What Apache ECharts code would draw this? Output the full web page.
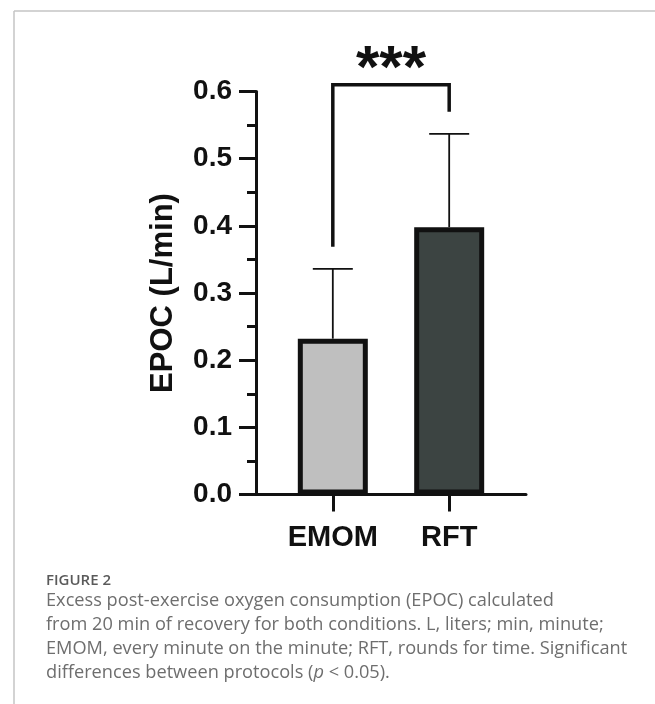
<!DOCTYPE html>
<html>
<head>
<meta charset="utf-8">
<script src="https://cdn.jsdelivr.net/npm/echarts@6/dist/echarts.min.js"></script>
<style>
  html, body { margin: 0; padding: 0; background: #fff; }
  #chart { width: 655px; height: 704px; }
</style>
</head>
<body>
<div id="chart"></div>
<script>
// ---- data ----
const categories = ['EMOM', 'RFT'];
const means = [0.232, 0.398];
const sds = [0.104, 0.139];
const yTicks = [0.0, 0.1, 0.2, 0.3, 0.4, 0.5, 0.6];
const sigLabel = '***';
const sigGap = 0.033;      // gap between error-bar tip and bracket leg
const sigTopExtra = 0.073; // bracket height above the higher error bar
const captionTitle = 'FIGURE 2';
const captionLines = [
  'Excess post-exercise oxygen consumption (EPOC) calculated',
  'from 20 min of recovery for both conditions. L, liters; min, minute;',
  'EMOM, every minute on the minute; RFT, rounds for time. Significant',
  'differences between protocols ({i|p} < 0.05).'
];

// ---- styles ----
const barColors = ['#bfbfbf', '#3c4442'];
const ink = '#111111';
const chartFont = 'Liberation Sans';
const capFont = 'Open Sans';
const capColor = '#6e6e6e';
const capSize = 18.2;

const chart = echarts.init(document.getElementById('chart'), null, { renderer: 'canvas' });

const barData = categories.map((c, i) => ({ value: [i, means[i]], itemStyle: { color: barColors[i] } }));
const errData = categories.map((c, i) => [i, means[i], means[i] + sds[i]]);
const tips = categories.map((c, i) => means[i] + sds[i]);
const sigData = [[0, 1, tips[0] + sigGap, tips[1] + sigGap, Math.max(tips[0], tips[1]) + sigTopExtra]];

const option = {
  animation: false,
  backgroundColor: '#fff',
  grid: { left: 256, right: 129, top: 91.5, bottom: 209.5 },
  xAxis: {
    type: 'value',
    min: -0.66, max: 1.66,
    splitLine: { show: false },
    axisLine: { show: true, onZero: true, lineStyle: { color: ink, width: 3 } },
    axisTick: { show: true, customValues: [0, 1], length: 17, lineStyle: { color: ink, width: 3 } },
    axisLabel: {
      customValues: [0, 1],
      formatter: v => categories[Math.round(v)],
      color: ink, fontFamily: chartFont, fontWeight: 'bold', fontSize: 29, margin: 29
    }
  },
  yAxis: {
    type: 'value',
    min: yTicks[0], max: yTicks[yTicks.length - 1], interval: 0.1,
    name: 'EPOC (L/min)',
    nameLocation: 'middle',
    nameGap: 77,
    nameTextStyle: { color: ink, fontFamily: chartFont, fontWeight: 'bold', fontSize: 31 },
    splitLine: { show: false },
    axisLine: { show: true, onZero: false, lineStyle: { color: ink, width: 3 } },
    axisTick: { show: true, length: 17, lineStyle: { color: ink, width: 3 } },
    minorTick: { show: true, splitNumber: 2, length: 9, lineStyle: { color: ink, width: 3 } },
    minorSplitLine: { show: false },
    axisLabel: {
      formatter: v => v.toFixed(1),
      color: ink, fontFamily: chartFont, fontWeight: 'bold', fontSize: 28, margin: 24
    }
  },
  series: [
    {
      type: 'bar',
      data: barData,
      barWidth: 70,
      itemStyle: { borderColor: ink, borderWidth: 5 },
      z: 2
    },
    {
      type: 'custom',
      data: errData,
      z: 3,
      renderItem: (params, api) => {
        const x = api.value(0);
        const p0 = api.coord([x, api.value(1)]);
        const p1 = api.coord([x, api.value(2)]);
        return {
          type: 'group',
          children: [
            { type: 'line', shape: { x1: p0[0], y1: p0[1], x2: p1[0], y2: p1[1] }, style: { stroke: ink, lineWidth: 1.8 } },
            { type: 'line', shape: { x1: p1[0] - 20, y1: p1[1], x2: p1[0] + 20, y2: p1[1] }, style: { stroke: ink, lineWidth: 1.8 } }
          ]
        };
      }
    },
    {
      type: 'custom',
      data: sigData,
      clip: false,
      z: 3,
      renderItem: (params, api) => {
        const a = api.value(0), b = api.value(1);
        const pL = api.coord([a, api.value(2)]);
        const pLT = api.coord([a, api.value(4)]);
        const pRT = api.coord([b, api.value(4)]);
        const pR = api.coord([b, api.value(3)]);
        return {
          type: 'group',
          children: [
            { type: 'polyline', shape: { points: [pL, pLT, pRT, pR] }, style: { stroke: ink, lineWidth: 3.5, fill: null } },
            { type: 'text', x: (pLT[0] + pRT[0]) / 2, y: pLT[1] - 14,
              style: { text: sigLabel, fill: ink, font: 'bold 60px "Liberation Sans"', align: 'center', verticalAlign: 'middle' } }
          ]
        };
      }
    }
  ],
  graphic: [
    { type: 'line', shape: { x1: 14, y1: 704, x2: 14, y2: 11 }, style: { stroke: '#c4c4c4', lineWidth: 1.5 } },
    { type: 'line', shape: { x1: 14, y1: 11, x2: 655, y2: 11 }, style: { stroke: '#c4c4c4', lineWidth: 1.5 } },
    { type: 'text', x: 46, y: 581,
      style: { text: captionTitle, fill: '#5a5a5a', font: '600 15px "Open Sans"', verticalAlign: 'middle' } },
    { type: 'text', x: 46, y: 589,
      style: {
        text: captionLines.join('\n'),
        fill: capColor, font: capSize + 'px "Open Sans"', lineHeight: 24, verticalAlign: 'top',
        rich: { i: { fill: capColor, fontFamily: capFont, fontSize: capSize, fontStyle: 'italic', lineHeight: 24 } }
      } }
  ]
};

chart.setOption(option);
</script>
</body>
</html>
